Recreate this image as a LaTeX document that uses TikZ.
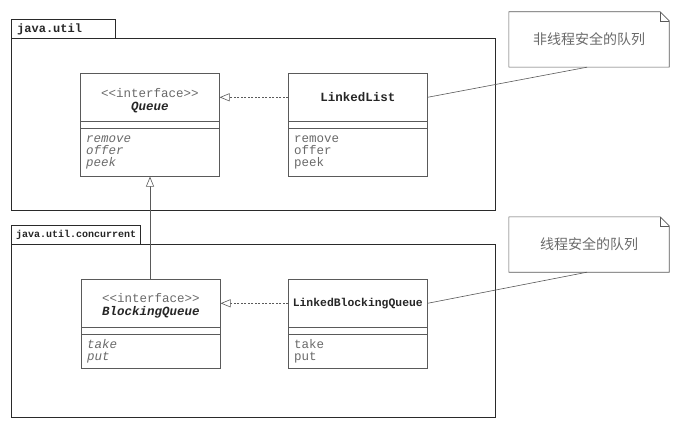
\documentclass[tikz,border=0pt]{standalone}
\usepackage{fontspec}
\setmonofont{Liberation Mono}
\newfontfamily\cjk{Noto Sans CJK SC}
\usetikzlibrary{arrows.meta}
\definecolor{pkgline}{HTML}{2A2A2A}
\definecolor{clsline}{HTML}{5A5A5A}
\definecolor{graytxt}{HTML}{6A6A6A}
\definecolor{darktxt}{HTML}{262626}
\tikzset{
  pkgbox/.style={draw=pkgline, line width=1.2pt, anchor=north west, inner sep=0pt},
  pkgtab/.style={draw=pkgline, line width=1.1pt, anchor=north west, inner sep=0pt, text=darktxt, font=\ttfamily\bfseries},
  clsbox/.style={draw=clsline, line width=0.6pt, anchor=north west, inner sep=0pt, minimum width=139pt},
  clshead/.style={draw=clsline, line width=0.6pt, anchor=north west, inner sep=0pt, minimum width=139pt, minimum height=48pt, align=center, font=\ttfamily\fontsize{12.5}{13}\selectfont},
  methods/.style={anchor=north west, inner sep=0pt, align=left, text=graytxt, font=\ttfamily\fontsize{12.5}{12}\selectfont},
  notebox/.style={inner sep=0pt, minimum width=160pt, minimum height=55pt, text=graytxt, font=\cjk\fontsize{14}{16}\selectfont},
  realize/.style={draw=clsline, line width=0.6pt, dashed, dash pattern=on 2pt off 1.5pt, -{Triangle[open, length=10pt, width=8pt, fill=white]}},
  general/.style={draw=clsline, line width=0.6pt, -{Triangle[open, length=10pt, width=8pt, fill=white]}},
  notelink/.style={draw=clsline, line width=0.6pt},
}
\begin{document}
\begin{tikzpicture}[x=1pt, y=-1pt]
\useasboundingbox (0,0) rectangle (680,428);
\fill[white] (0,0) rectangle (680,428);

% package java.util
\node[pkgbox, minimum width=484pt, minimum height=172pt] (pkg1) at (11,38) {};
\node[pkgtab, minimum width=104pt, minimum height=19pt] (tab1) at (11,19) {};
\node[anchor=west, inner sep=0pt, text=darktxt, font=\ttfamily\bfseries\fontsize{12}{12}\selectfont] (tab1t) at (17,29) {java.util};

% package java.util.concurrent
\node[pkgbox, minimum width=484pt, minimum height=173pt] (pkg2) at (11,244) {};
\node[pkgtab, minimum width=129pt, minimum height=19pt] (tab2) at (11,225) {};
\node[anchor=west, inner sep=0pt, text=darktxt, font=\ttfamily\bfseries\fontsize{10}{10}\selectfont] (tab2t) at (16,235) {java.util.concurrent};

% Queue
\node[clsbox, minimum height=103pt] (queue) at (80,73) {};
\node[clshead] (queueH) at (80,73) {\rule{0pt}{15pt}{\color{graytxt}<<interface>>}\\[0pt]{\color{darktxt}\bfseries\itshape Queue}};
\draw[clsline, line width=0.6pt] ([yshift=-7pt]queueH.south west) -- ([yshift=-7pt]queueH.south east);
\node[methods] (queueM) at (86,136) {\itshape remove\\\itshape offer\\\itshape peek};

% LinkedList
\node[clsbox, minimum height=103pt] (ll) at (288,73) {};
\node[clshead] (llH) at (288,73) {{\color{darktxt}\bfseries LinkedList}};
\draw[clsline, line width=0.6pt] ([yshift=-7pt]llH.south west) -- ([yshift=-7pt]llH.south east);
\node[methods] (llM) at (294,136) {remove\\offer\\peek};

% BlockingQueue
\node[clsbox, minimum height=89pt] (bq) at (81,279) {};
\node[clshead] (bqH) at (81,279) {\rule{0pt}{15pt}{\color{graytxt}<<interface>>}\\[0pt]{\color{darktxt}\bfseries\itshape BlockingQueue}};
\draw[clsline, line width=0.6pt] ([yshift=-7pt]bqH.south west) -- ([yshift=-7pt]bqH.south east);
\node[methods] (bqM) at (87,339) {\itshape take\\\itshape put};

% LinkedBlockingQueue
\node[clsbox, minimum height=89pt] (lbq) at (288,279) {};
\node[clshead, font=\ttfamily\fontsize{11.4}{13}\selectfont] (lbqH) at (288,279) {{\color{darktxt}\bfseries LinkedBlockingQueue}};
\draw[clsline, line width=0.6pt] ([yshift=-7pt]lbqH.south west) -- ([yshift=-7pt]lbqH.south east);
\node[methods] (lbqM) at (294,339) {take\\put};

% notes
\node[notebox] (n1) at (589,39.5) {非线程安全的队列};
\draw[clsline, line width=0.6pt] (n1.north west) -- ([xshift=-9pt]n1.north east) -- ([yshift=-9pt]n1.north east) -- (n1.south east) -- (n1.south west) -- cycle;
\draw[clsline, line width=0.5pt] ([xshift=-9pt]n1.north east) -- ([xshift=-9pt,yshift=-9pt]n1.north east) -- ([yshift=-9pt]n1.north east);

\node[notebox] (n2) at (589,244.5) {线程安全的队列};
\draw[clsline, line width=0.6pt] (n2.north west) -- ([xshift=-9pt]n2.north east) -- ([yshift=-9pt]n2.north east) -- (n2.south east) -- (n2.south west) -- cycle;
\draw[clsline, line width=0.5pt] ([xshift=-9pt]n2.north east) -- ([xshift=-9pt,yshift=-9pt]n2.north east) -- ([yshift=-9pt]n2.north east);

% connectors
\draw[realize] (llH.west) -- (queueH.east);
\draw[realize] (lbqH.west) -- (bqH.east);
\draw[general] (bq.north -| 150,0) -- (queue.south -| 150,0);
\draw[notelink] (llH.east) -- ([xshift=-2pt]n1.south);
\draw[notelink] (lbqH.east) -- ([xshift=-2pt]n2.south);
\end{tikzpicture}
\end{document}
